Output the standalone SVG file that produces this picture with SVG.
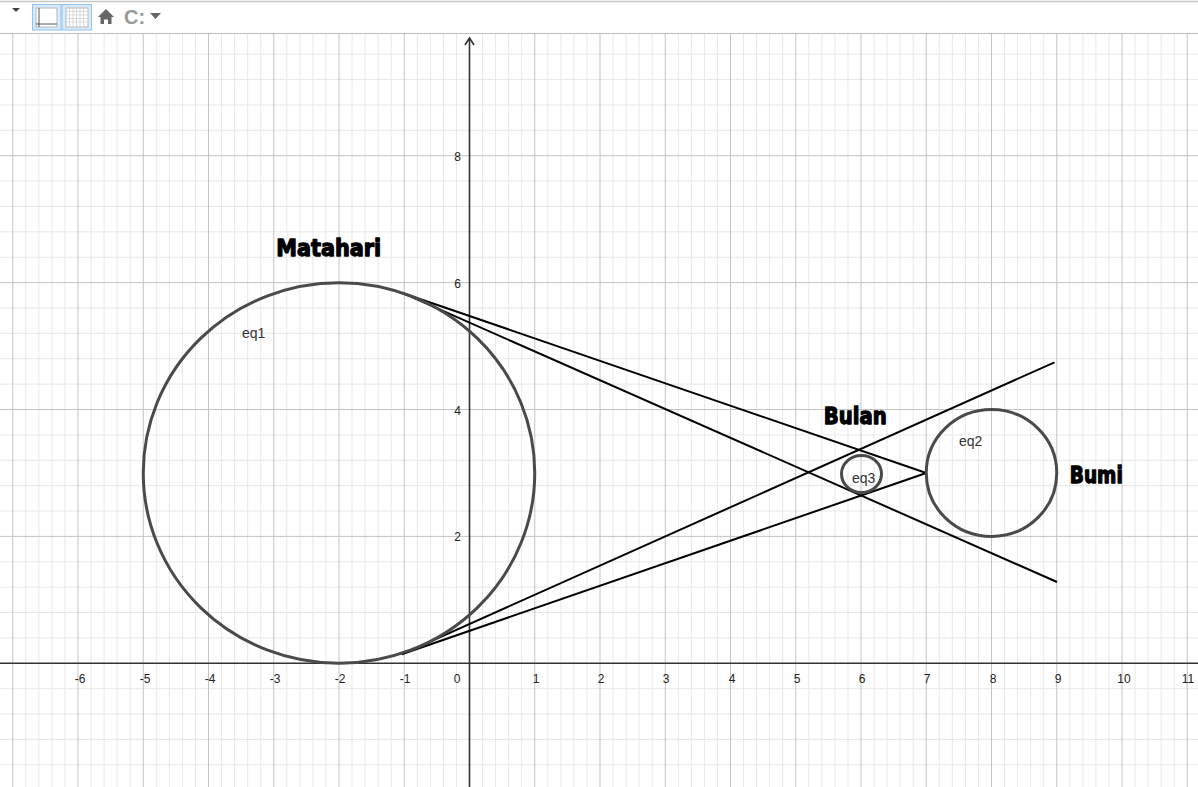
<svg xmlns="http://www.w3.org/2000/svg" width="1198" height="787" viewBox="0 0 1198 787">
<style>
.minor{stroke:#e8e8e8;stroke-width:1;fill:none}
.major{stroke:#c4c4c4;stroke-width:1;fill:none}
.axis{stroke:#333;stroke-width:1.6;fill:none}
.circ{fill:none;stroke:#4a4a4a;stroke-width:3}
.ln{stroke:#000;stroke-width:2;fill:none}
.num{font-family:"Liberation Sans",Arial,sans-serif;font-size:12px;fill:#222;text-anchor:middle}
.ynum{font-family:"Liberation Sans",Arial,sans-serif;font-size:12px;fill:#222;text-anchor:end}
.eq{font-family:"Liberation Sans",Arial,sans-serif;font-size:14px;fill:#333}
.big{font-family:"DejaVu Sans",sans-serif;font-weight:bold;font-size:23px;fill:#000;stroke:#000;stroke-width:1.3;stroke-linejoin:round}
</style>
<rect width="1198" height="787" fill="#fff"/>
<g id="grid">
<path class="minor" d="M25.8 34V787M38.85 34V787M51.9 34V787M64.95 34V787M91.05 34V787M104.1 34V787M117.15 34V787M130.2 34V787M156.3 34V787M169.35 34V787M182.4 34V787M195.45 34V787M221.55 34V787M234.6 34V787M247.65 34V787M260.7 34V787M286.8 34V787M299.85 34V787M312.9 34V787M325.95 34V787M352.05 34V787M365.1 34V787M378.15 34V787M391.2 34V787M417.3 34V787M430.35 34V787M443.4 34V787M456.45 34V787M482.55 34V787M495.6 34V787M508.65 34V787M521.7 34V787M547.8 34V787M560.85 34V787M573.9 34V787M586.95 34V787M613.05 34V787M626.1 34V787M639.15 34V787M652.2 34V787M678.3 34V787M691.35 34V787M704.4 34V787M717.45 34V787M743.55 34V787M756.6 34V787M769.65 34V787M782.7 34V787M808.8 34V787M821.85 34V787M834.9 34V787M847.95 34V787M874.05 34V787M887.1 34V787M900.15 34V787M913.2 34V787M939.3 34V787M952.35 34V787M965.4 34V787M978.45 34V787M1004.55 34V787M1017.6 34V787M1030.65 34V787M1043.7 34V787M1069.8 34V787M1082.85 34V787M1095.9 34V787M1108.95 34V787M1135.05 34V787M1148.1 34V787M1161.15 34V787M1174.2 34V787
M0 54.18H1198M0 79.56H1198M0 104.94H1198M0 130.32H1198M0 181.08H1198M0 206.46H1198M0 231.84H1198M0 257.22H1198M0 307.98H1198M0 333.36H1198M0 358.74H1198M0 384.12H1198M0 434.88H1198M0 460.26H1198M0 485.64H1198M0 511.02H1198M0 561.78H1198M0 587.16H1198M0 612.54H1198M0 637.92H1198M0 688.68H1198M0 714.06H1198M0 739.44H1198M0 764.82H1198"/>
<path class="major" d="M12.75 34V787M78 34V787M143.25 34V787M208.5 34V787M273.75 34V787M339 34V787M404.25 34V787M534.75 34V787M600 34V787M665.25 34V787M730.5 34V787M795.75 34V787M861 34V787M926.25 34V787M991.5 34V787M1056.75 34V787M1122 34V787M1187.25 34V787
M0 155.7H1198M0 282.6H1198M0 409.5H1198M0 536.4H1198"/>
</g>
<g id="axes">
<path class="axis" d="M0 663.3H1198"/>
<path class="axis" d="M469.5 787V38"/>
<path class="axis" d="M465 45L469.5 38L474 45"/>
<text class="num" x="80" y="683">-6</text>
<text class="num" x="145" y="683">-5</text>
<text class="num" x="210" y="683">-4</text>
<text class="num" x="275" y="683">-3</text>
<text class="num" x="340" y="683">-2</text>
<text class="num" x="405" y="683">-1</text>
<text class="num" x="457" y="683">0</text>
<text class="num" x="536" y="683">1</text>
<text class="num" x="601" y="683">2</text>
<text class="num" x="666" y="683">3</text>
<text class="num" x="732" y="683">4</text>
<text class="num" x="797" y="683">5</text>
<text class="num" x="862" y="683">6</text>
<text class="num" x="927" y="683">7</text>
<text class="num" x="993" y="683">8</text>
<text class="num" x="1058" y="683">9</text>
<text class="num" x="1124" y="683">10</text>
<text class="num" x="1188" y="683">11</text>
<text class="ynum" x="461" y="160.5">8</text>
<text class="ynum" x="461" y="287.5">6</text>
<text class="ynum" x="461" y="414.5">4</text>
<text class="ynum" x="461" y="541">2</text>
</g>
<g id="connectors">
<line class="ln" x1="401.7" y1="292.7" x2="926.25" y2="473"/>
<line class="ln" x1="401.7" y1="292.7" x2="1057" y2="582"/>
<line class="ln" x1="401.7" y1="654.3" x2="1054.5" y2="362.3"/>
<line class="ln" x1="401.7" y1="654.3" x2="926.25" y2="473"/>
</g>
<g id="eq1">
<ellipse class="circ" cx="339" cy="473" rx="195.75" ry="190.3"/>
<text class="eq" x="242" y="338">eq1</text>
</g>
<g id="eq2">
<ellipse class="circ" cx="991.5" cy="473" rx="65.25" ry="63.45"/>
<text class="eq" x="959" y="446">eq2</text>
</g>
<g id="eq3">
<ellipse class="circ" cx="861.5" cy="474" rx="20" ry="18.5"/>
<text class="eq" x="852" y="483">eq3</text>
</g>
<g id="matahari"><text class="big" x="276.2" y="256" textLength="105" lengthAdjust="spacingAndGlyphs">Matahari</text></g>
<g id="bulan"><text class="big" x="823.8" y="424" textLength="63" lengthAdjust="spacingAndGlyphs">Bulan</text></g>
<g id="bumi"><text class="big" x="1069.8" y="483" textLength="53" lengthAdjust="spacingAndGlyphs">Bumi</text></g>
<g id="toolbar">
<rect x="0" y="0" width="1198" height="33.5" fill="#fff"/>
<path d="M0 1.5H1198" stroke="#c8c8c8" stroke-width="1.5"/>
<path d="M0 33.5H1198" stroke="#bdbdbd" stroke-width="1"/>
<path d="M12 8L20 8L16 12Z" fill="#444"/>
<rect x="32.5" y="4.5" width="28.5" height="25.5" fill="#dcebfa" stroke="#8ec2ef" stroke-width="1"/>
<rect x="36" y="8" width="21" height="19" fill="#fff" stroke="#9ab" stroke-width="0.8"/>
<path d="M39 8V27M36 24H57" stroke="#555" stroke-width="1"/>
<rect x="62" y="4.5" width="29.5" height="25.5" fill="#dcebfa" stroke="#8ec2ef" stroke-width="1"/>
<rect x="66" y="8" width="22" height="19" fill="#fff" stroke="#aaa" stroke-width="0.8"/>
<path d="M69.5 8V27M73 8V27M76.5 8V27M80 8V27M83.5 8V27M66 11.5H88M66 15H88M66 18.5H88M66 22H88" stroke="#ccc" stroke-width="0.7"/>
<path d="M98 17L106 9L114 17H111.5V24H108V19.5H104V24H100.5V17Z" fill="#666"/>
<text x="124" y="24" font-family="Liberation Sans,Arial,sans-serif" font-size="20" font-weight="bold" fill="#999">C:</text>
<path d="M150 13L161 13L155.5 19Z" fill="#666"/>
</g>
</svg>
